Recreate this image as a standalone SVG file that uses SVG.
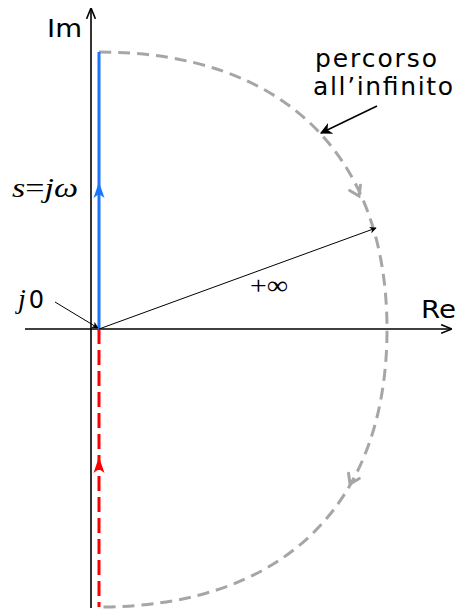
<svg xmlns="http://www.w3.org/2000/svg" width="461" height="610" viewBox="0 0 461 610">
<style>
.lbl{font-family:"DejaVu Sans",sans-serif;fill:#000}
.math{font-family:"Liberation Serif","DejaVu Serif",serif;fill:#000}
.axis{stroke:#000;stroke-width:1.6;fill:none}
.thin{stroke:#000;stroke-width:1;fill:none}
.gray{stroke:#a6a6a6;stroke-width:3;fill:none;stroke-dasharray:12 7}
.grayhead{stroke:#a6a6a6;stroke-width:3;fill:none;stroke-linecap:round;stroke-linejoin:miter}
</style>
<defs>
<marker id="ah" viewBox="0 0 10 10" refX="9" refY="5" markerWidth="7" markerHeight="7" markerUnits="userSpaceOnUse" orient="auto">
<path d="M0,0 L10,5 L0,10 L3,5 Z" fill="#000"/>
</marker>
<marker id="ahbig" viewBox="0 0 10 10" refX="9" refY="5" markerWidth="11" markerHeight="11" markerUnits="userSpaceOnUse" orient="auto">
<path d="M0,1 L10,5 L0,9" fill="none" stroke="#000" stroke-width="1.4"/>
</marker>
<marker id="ahmed" viewBox="0 0 10 10" refX="9" refY="5" markerWidth="12" markerHeight="12" markerUnits="userSpaceOnUse" orient="auto">
<path d="M0,0 L10,5 L0,10 L3,5 Z" fill="#000"/>
</marker>
</defs>

<g id="connectors">
<line id="im-axis" class="axis" x1="91" y1="608" x2="91" y2="9" marker-end="url(#ahbig)"/>
<line id="re-axis" class="axis" x1="25" y1="329" x2="451" y2="329" marker-end="url(#ahbig)"/>
<path id="infinite-path" class="gray" d="M99,52 C282,52 387,153 387,329.5 C387,506 282,607 99,607"/>
<path class="grayhead" d="M-9,-6 L0,0 L-9,6" transform="translate(359,196) rotate(64)"/>
<path class="grayhead" d="M-9,-6 L0,0 L-9,6" transform="translate(350,484) rotate(116)"/>
<line id="blue-path" x1="99" y1="329" x2="99" y2="52" stroke="#1a75ff" stroke-width="3"/>
<path d="M99,182 L104.5,198 L99,194 L93.5,198 Z" fill="#1a75ff"/>
<line id="red-path" x1="99" y1="329" x2="99" y2="607" stroke="#ff0000" stroke-width="3" stroke-dasharray="15 6"/>
<path d="M99,457 L104.5,473 L99,469 L93.5,473 Z" fill="#ff0000"/>
<line id="radius" class="thin" x1="99" y1="329" x2="376" y2="228" marker-end="url(#ah)"/>
<line id="j0-arrow" class="thin" x1="55" y1="302" x2="98" y2="328" marker-end="url(#ah)"/>
<line id="inf-arrow" x1="377" y1="106" x2="321" y2="133" stroke="#000" stroke-width="1.5" marker-end="url(#ahmed)"/>
</g>

<g id="label-im"><text class="lbl" x="47" y="37" font-size="25" textLength="35" lengthAdjust="spacingAndGlyphs">Im</text></g>
<g id="label-re"><text class="lbl" x="421" y="318" font-size="25" textLength="35" lengthAdjust="spacingAndGlyphs">Re</text></g>
<g id="label-percorso">
<text class="lbl" x="315" y="67" font-size="25" textLength="122" lengthAdjust="spacing">percorso</text>
<text class="lbl" x="313" y="95" font-size="25" textLength="140" lengthAdjust="spacing">all’infinito</text>
</g>
<g id="label-sjw"><text class="math" x="12" y="197" font-size="27" textLength="66" lengthAdjust="spacingAndGlyphs"><tspan font-style="italic">s</tspan>=<tspan font-style="italic">jω</tspan></text></g>
<g id="label-j0"><text x="18" y="308" font-size="24"><tspan class="math" font-style="italic" font-size="28">j</tspan><tspan class="lbl" font-size="24" dx="3">0</tspan></text></g>
<g id="label-inf"><text class="math" x="250" y="294" font-size="26" textLength="38" lengthAdjust="spacingAndGlyphs">+∞</text></g>
</svg>
